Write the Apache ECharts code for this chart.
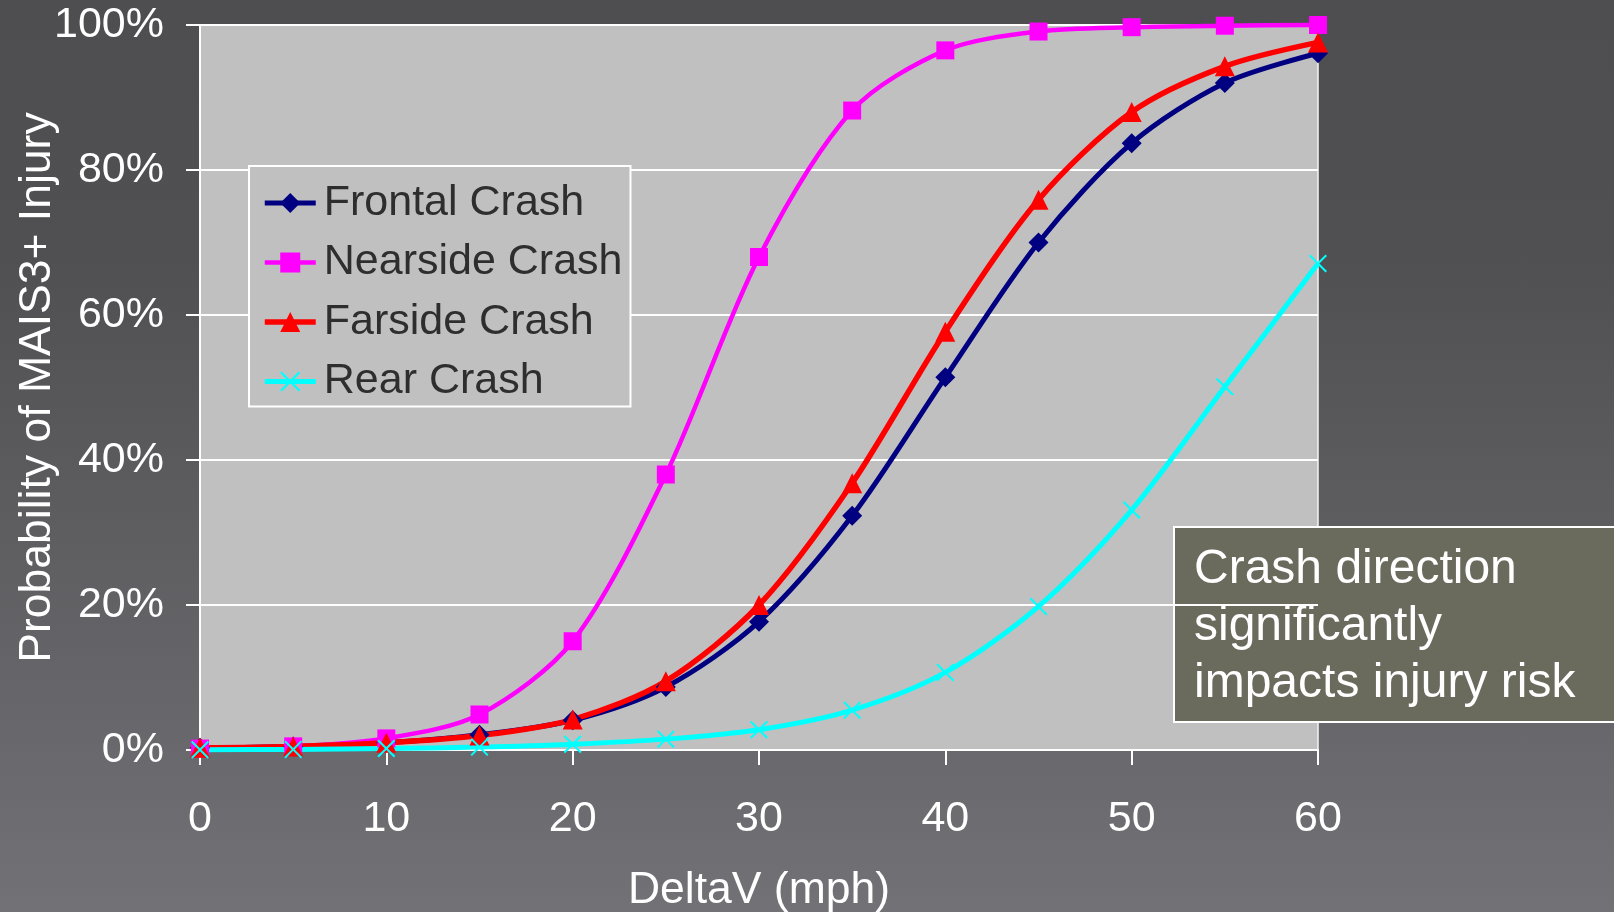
<!DOCTYPE html>
<html>
<head>
<meta charset="utf-8">
<script src="https://cdn.jsdelivr.net/npm/echarts@6/dist/echarts.min.js"></script>
<style>
  html, body { margin: 0; padding: 0; width: 100%; height: 100%; }
  body { background: linear-gradient(to bottom, #4e4e50 0%, #505052 28%, #717176 100%); }
  #chart { width: 1614px; height: 912px; }
</style>
</head>
<body>
<div id="chart"></div>
<script>
// Impact speed (mph) at which each risk estimate is given
const deltaV = [0, 5, 10, 15, 20, 25, 30, 35, 40, 45, 50, 55, 60];

// Probability of MAIS3+ injury (%) by crash direction
const frontal  = [0.3, 0.5, 1.0, 2.1, 4.1, 8.7, 17.7, 32.3, 51.4, 70.0, 83.7, 92.0, 96.1];
const nearside = [0.2, 0.5, 1.6, 4.9, 15.0, 38.0, 68.0, 88.2, 96.5, 99.1, 99.7, 99.9, 100.0];
const farside  = [0.3, 0.5, 1.0, 2.0, 4.2, 9.5, 20.0, 36.8, 57.7, 75.9, 88.0, 94.3, 97.6];
const rear     = [0.04, 0.08, 0.2, 0.4, 0.8, 1.5, 2.8, 5.5, 10.7, 19.8, 33.1, 50.1, 67.1];

const seriesNames = ['Frontal Crash', 'Nearside Crash', 'Farside Crash', 'Rear Crash'];
const yTicks = [0, 20, 40, 60, 80, 100];

const FONT = "'Liberation Sans', Arial, sans-serif";

// Thin "x" cross outline used for the rear-crash markers
const crossPath = 'path://M0,0.8L0.8,0L5,4.2L9.2,0L10,0.8L5.8,5L10,9.2L9.2,10L5,5.8L0.8,10L0,9.2L4.2,5Z';

function pairs(values) {
  return deltaV.map((x, i) => [x, values[i]]);
}

function lineSeries(name, values, color, symbol, size, width) {
  return {
    name: name,
    type: 'line',
    data: pairs(values),
    smooth: 0.3,
    clip: false,
    symbol: symbol,
    symbolSize: size,
    showAllSymbol: true,
    lineStyle: { color: color, width: width },
    itemStyle: { color: color, borderWidth: 0 },
    emphasis: { disabled: true }
  };
}

const chart = echarts.init(document.getElementById('chart'), null, { renderer: 'canvas' });

chart.setOption({
  animation: false,
  backgroundColor: 'transparent',
  textStyle: { fontFamily: FONT },
  grid: {
    left: 200, top: 25, right: 296, bottom: 162,
    containLabel: false,
    outerBoundsMode: 'none',
    show: true,
    backgroundColor: '#c0c0c0',
    borderColor: '#f4f4f4',
    borderWidth: 1.5
  },
  xAxis: {
    type: 'value',
    min: 0, max: 60, interval: 10,
    name: 'DeltaV (mph)',
    nameLocation: 'middle',
    nameGap: 118,
    nameMoveOverlap: false,
    nameTextStyle: { color: '#ffffff', fontSize: 44.5, fontFamily: FONT },
    axisLine: { lineStyle: { color: '#ffffff', width: 2 } },
    axisTick: { show: true, length: 15, inside: false, lineStyle: { color: '#ffffff', width: 2 } },
    axisLabel: { color: '#ffffff', fontSize: 43, fontFamily: FONT, margin: 48 },
    splitLine: { show: false }
  },
  yAxis: {
    type: 'value',
    min: 0, max: 100, interval: 20,
    name: 'Probability of MAIS3+ Injury',
    nameLocation: 'middle',
    nameGap: 140,
    nameMoveOverlap: false,
    nameTextStyle: { color: '#ffffff', fontSize: 44.5, fontFamily: FONT },
    axisLine: { show: true, lineStyle: { color: '#ffffff', width: 2 } },
    axisTick: { show: true, length: 14, inside: false, lineStyle: { color: '#ffffff', width: 2 } },
    axisLabel: {
      color: '#ffffff', fontSize: 43, fontFamily: FONT, margin: 36,
      formatter: v => (yTicks.indexOf(v) >= 0 ? v + '%' : '')
    },
    splitLine: { show: true, lineStyle: { color: '#ffffff', width: 2 } }
  },
  legend: {
    data: seriesNames,
    orient: 'vertical',
    left: 249,
    top: 166,
    padding: [12, 8, 0, 13],
    itemGap: 9.5,
    itemWidth: 51,
    itemHeight: 25,
    backgroundColor: '#c0c0c0',
    borderColor: '#ffffff',
    borderWidth: 2,
    borderRadius: 0,
    selectedMode: false,
    lineStyle: { width: 'inherit' },
    textStyle: {
      color: '#2e2e2e', fontSize: 43, fontFamily: FONT, lineHeight: 50,
      padding: [0, 0, 0, 3]
    }
  },
  series: [
    lineSeries('Frontal Crash', frontal, '#000080', 'diamond', [20, 20], 5),
    lineSeries('Nearside Crash', nearside, '#ff00ff', 'rect', 18, 4.5),
    lineSeries('Farside Crash', farside, '#ff0000', 'triangle', 20, 5.5),
    lineSeries('Rear Crash', rear, '#00ffff', crossPath, 18, 5)
  ],
  graphic: [
    {
      type: 'group',
      left: 1173,
      top: 526,
      children: [
        {
          type: 'rect',
          shape: { x: 0, y: 0, width: 460, height: 195 },
          style: { fill: '#6a6b5d', stroke: '#ffffff', lineWidth: 2 }
        },
        {
          type: 'text',
          x: 20,
          y: 14,
          style: {
            text: 'Crash direction\nsignificantly\nimpacts injury risk',
            fill: '#ffffff',
            font: "48px 'Liberation Sans', Arial, sans-serif",
            lineHeight: 57,
            verticalAlign: 'top'
          }
        }
      ]
    }
  ]
});
</script>
</body>
</html>
